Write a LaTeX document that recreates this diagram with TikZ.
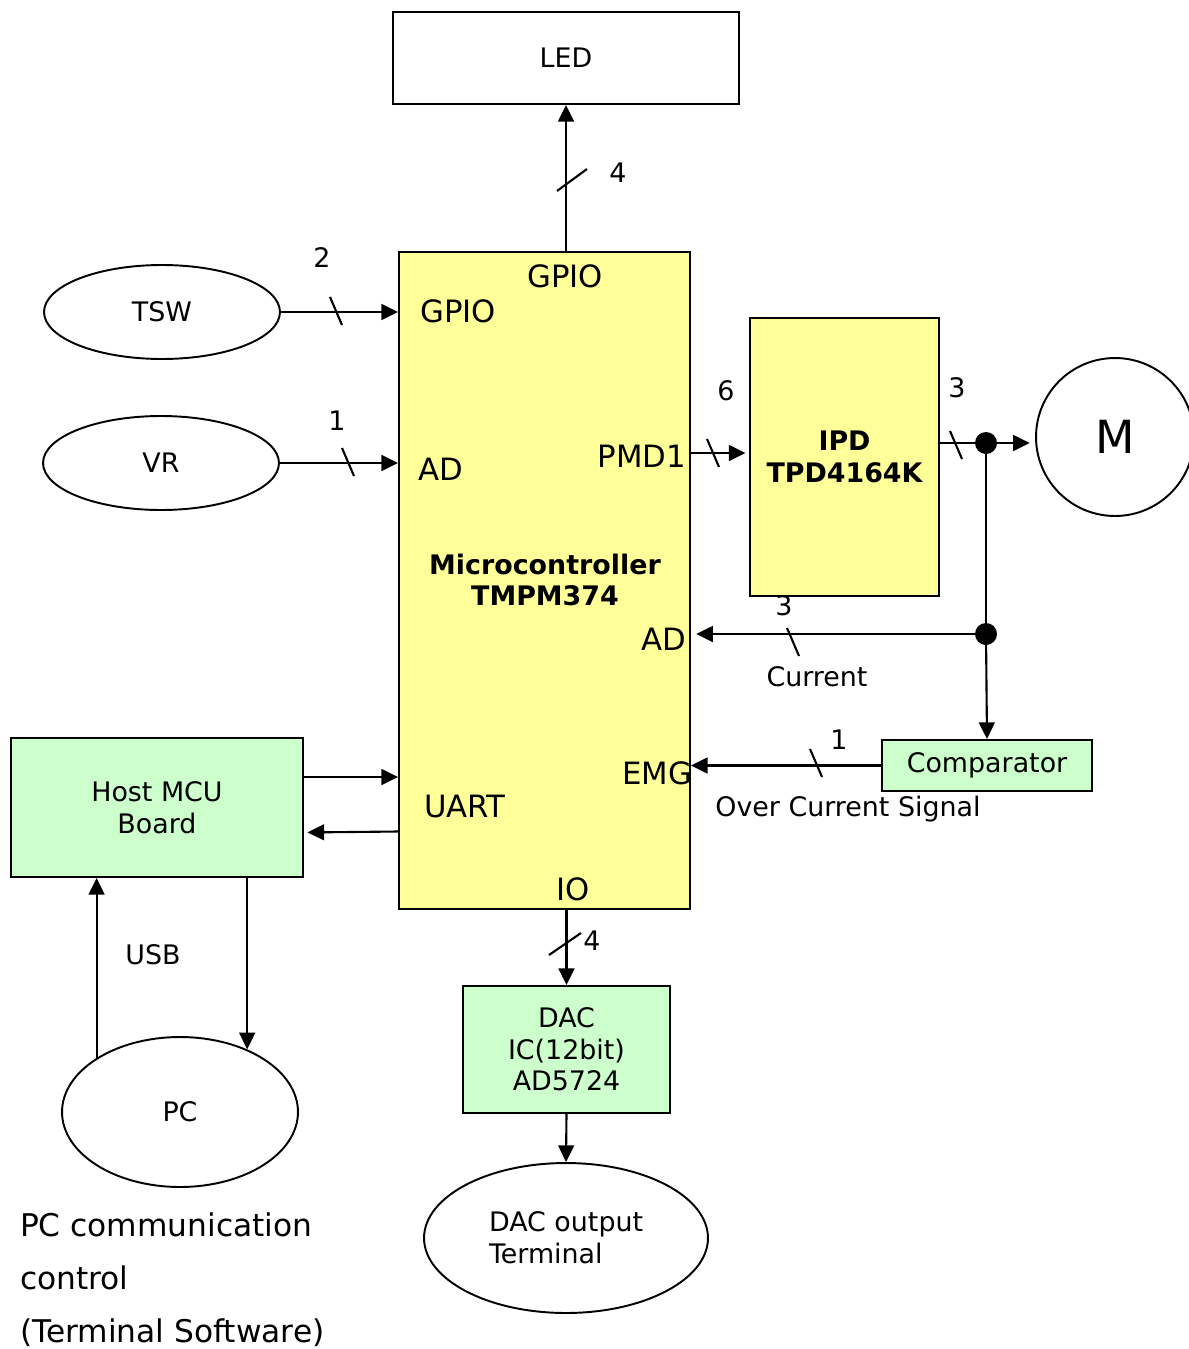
\documentclass[tikz,border=0pt]{standalone}
\usepackage{fontspec}
\setmainfont{DejaVu Sans}
\usetikzlibrary{shapes.geometric,arrows.meta}

\definecolor{chipyellow}{HTML}{FFFF99}
\definecolor{boardgreen}{HTML}{CCFFCC}
\newcommand{\txtsmall}{\fontsize{15.3}{18}\selectfont}
\newcommand{\txtlarge}{\fontsize{17.5}{20}\selectfont}

\tikzstyle{block}=[draw,line width=1.1pt,inner sep=0pt,align=center,font=\txtsmall]
\tikzstyle{oval}=[ellipse,draw,line width=1.1pt,inner sep=0pt,align=center,font=\txtsmall,minimum width=4.72cm,minimum height=1.88cm]
\tikzstyle{port}=[inner sep=0pt,font=\txtlarge]
\tikzstyle{count}=[inner sep=0pt,font=\txtsmall]
\tikzstyle{sig}=[->,line width=1.2pt]
\tikzstyle{junction}=[circle,fill=black,minimum size=0.44cm,inner sep=0pt]

\begin{document}
\begin{tikzpicture}[x=0.02cm,y=-0.02cm,line width=1.2pt,>={Triangle[length=9.5pt,width=9pt]}]
\useasboundingbox (0,0) rectangle (1189,1349);
% blocks
\node[block,minimum width=6.92cm,minimum height=1.84cm] (led) at (566,58) {LED};
\node[block,fill=chipyellow,minimum width=5.82cm,minimum height=13.14cm] (mcu) at (544.5,580.5) {};
\node[block,fill=chipyellow,minimum width=3.78cm,minimum height=5.56cm,font=\txtsmall\bfseries] (ipd) at (844.5,457) {IPD\\TPD4164K};
\node[block,fill=boardgreen,minimum width=4.2cm,minimum height=1.02cm] (comp) at (987,765.5) {Comparator};
\node[block,fill=boardgreen,minimum width=5.84cm,minimum height=2.78cm] (host) at (157,807.5) {Host MCU\\Board};
\node[block,fill=boardgreen,minimum width=4.14cm,minimum height=2.54cm] (dac) at (566.5,1049.5) {DAC\\IC(12bit)\\AD5724};
\node[oval] (tsw) at (162,312) {TSW};
\node[oval] (vr) at (161,463) {VR};
\node[circle,draw,line width=1.1pt,minimum size=3.16cm,inner sep=0pt,font=\fontsize{26}{30}\selectfont] (motor) at (1115,437) {M};
\node[oval,minimum height=3cm] (pc) at (180,1112) {PC};
\node[oval,minimum width=5.68cm,minimum height=3cm] (term) at (566,1238) {};
\node[inner sep=0pt,anchor=west,align=left,font=\txtsmall] (termtext) at (488,1238) {DAC output\\Terminal};

% port names
\node[port] (gpiotop) at (565,276) {GPIO};
\node[port] (gpioin) at (458,311) {GPIO};
\node[port] (adin) at (441,469) {AD};
\node[port] (pmd) at (642,456) {PMD1};
\node[port] (adcur) at (664,639) {AD};
\node[port] (emg) at (657,773) {EMG};
\node[port] (uart) at (465,806) {UART};
\node[port] (io) at (573,889) {IO};
\node[inner sep=0pt,align=center,font=\txtsmall\bfseries] (mcuname) at (545,580) {Microcontroller\\TMPM374};

% junctions
\node[junction] (j1) at (986,443) {};
\node[junction] (j2) at (986,634) {};
\coordinate (pmdline) at (0,453);

% connectors
\draw[sig] (led.south |- mcu.north) -- (led.south);
\draw[sig] (tsw.east) -- (tsw.east -| mcu.west);
\draw[sig] (vr.east) -- (vr.east -| mcu.west);
\draw[sig,shorten >=2pt] (pmdline -| mcu.east) -- (pmdline -| ipd.west);
\draw (j1 -| ipd.east) -- (j1.center);
\draw[sig,shorten >=3pt] (j1.center) -- (j1 -| motor.west);
\draw (j1.center) -- (j2.center);
\draw[sig] (j2.center) -- (comp.north);
\draw[sig,shorten >=3pt] (j2.center) -- (j2 -| mcu.east);
\draw[sig] (comp.west) -- (comp.west -| mcu.east);
\draw[sig] ([yshift=0.61cm]host.east) -- ([yshift=0.61cm]host.east -| mcu.west);
\draw[sig,shorten >=2pt] ([yshift=-0.48cm]host.east -| mcu.west) -- ([yshift=-0.5cm]host.east);
\draw[sig] (dac.north |- mcu.south) -- (dac.north);
\draw[sig] (dac.south) -- (term.north);
\draw[sig] (pc.147) -- (pc.147 |- host.south);
\draw[sig] (host.south -| pc.43) -- (pc.43);

% bus width marks
\draw (572,180) +(-15,11) -- +(15,-11);
\draw (336,311) +(-6,-14) -- +(6,14);
\draw (348,462) +(-6,-14) -- +(6,14);
\draw (713,453) +(-6,-14) -- +(6,14);
\draw (956,445) +(-6,-14) -- +(6,14);
\draw (793,642) +(-6,-14) -- +(6,14);
\draw (816,763) +(-6,-14) -- +(6,14);
\draw (565,944) +(-16,11) -- +(16,-11);

% widths and signal names
\node[count] (n1) at (618,173) {4};
\node[count] (n2) at (322,258) {2};
\node[count] (n3) at (337,421) {1};
\node[count] (n4) at (726,391) {6};
\node[count] (n5) at (957,388) {3};
\node[count] (n6) at (784,606) {3};
\node[count] (n7) at (839,740) {1};
\node[count] (n8) at (592,941) {4};
\node[count] (cur) at (817,677) {Current};
\node[count] (ocs) at (848,809) {Over Current Signal};
\node[count] (usb) at (153,955) {USB};
\node[inner sep=0pt,anchor=north west,align=left,font=\fontsize{17.8}{30}\selectfont] (pcnote) at (19,1212) {PC communication\\control\\(Terminal Software)};
\end{tikzpicture}
\end{document}
